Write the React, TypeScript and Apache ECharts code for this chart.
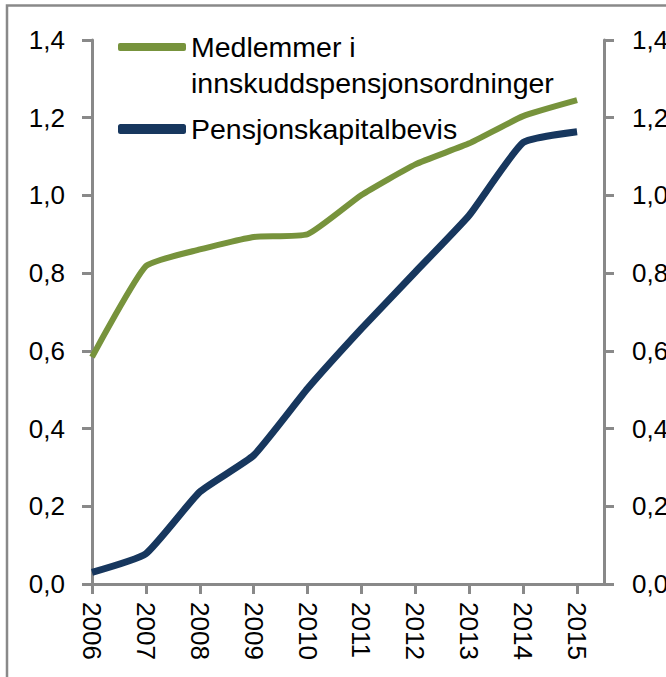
import React, { useEffect, useRef } from "react";
import * as echarts from "echarts";

const years = [2006, 2007, 2008, 2009, 2010, 2011, 2012, 2013, 2014, 2015];
const medlemmer = [0.584, 0.818, 0.861, 0.893, 0.9, 1.001, 1.08, 1.134, 1.204, 1.245];
const pensjonskapitalbevis = [0.03, 0.078, 0.237, 0.331, 0.503, 0.657, 0.803, 0.949, 1.136, 1.164];
const seriesNames = ["Medlemmer i innskuddspensjonsordninger", "Pensjonskapitalbevis"];
const legendLabels = ["\nMedlemmer i\ninnskuddspensjonsordninger", "Pensjonskapitalbevis"];
const yTicks = [0, 0.2, 0.4, 0.6, 0.8, 1.0, 1.2, 1.4];

const GREEN = "#77933C";
const BLUE = "#17375E";
const GRAY = "#898989";
const FONT = "'Liberation Sans', Arial, sans-serif";

export default function App() {
  const ref = useRef<HTMLDivElement>(null);
  useEffect(() => {
    if (!ref.current) return;
    const chart = echarts.init(ref.current, undefined, { renderer: "svg" });
    const fmt = (v: number) => v.toFixed(1).replace(".", ",");
    const yAxisBase = (position: "left" | "right", margin: number) => ({
      type: "value",
      position,
      min: yTicks[0],
      max: yTicks[yTicks.length - 1],
      interval: 0.2,
      splitLine: { show: false },
      axisLine: { show: true, lineStyle: { color: GRAY, width: 3 } },
      axisTick: { show: true, length: 10, lineStyle: { color: GRAY, width: 3 } },
      axisLabel: {
        margin,
        color: "#000",
        fontSize: 26,
        fontFamily: FONT,
        formatter: fmt,
      },
    });
    const legendText = {
      color: "#000",
      fontSize: 28.5,
      fontFamily: FONT,
      lineHeight: 36,
    };
    chart.setOption({
      animation: false,
      backgroundColor: "#fff",
      grid: {
        left: 92,
        right: 62,
        top: 40,
        bottom: 93,
        containLabel: false,
        outerBoundsMode: "none",
      },
      xAxis: {
        type: "value",
        min: years[0],
        max: years[years.length - 1] + 0.5,
        interval: 1,
        splitLine: { show: false },
        axisLine: { show: true, onZero: false, lineStyle: { color: GRAY, width: 3 } },
        axisTick: {
          show: true,
          length: 10,
          customValues: years,
          lineStyle: { color: GRAY, width: 3 },
        },
        axisLabel: {
          customValues: years,
          rotate: -90,
          margin: 18,
          color: "#000",
          fontSize: 26,
          fontFamily: FONT,
          formatter: (v: number) => String(v),
        },
      },
      yAxis: [yAxisBase("left", 27), yAxisBase("right", 28)],
      legend: [
        {
          data: [seriesNames[0]],
          left: 118,
          top: -7,
          padding: 0,
          icon: "roundRect",
          itemWidth: 68,
          itemHeight: 8,
          selectedMode: false,
          formatter: () => legendLabels[0],
          textStyle: legendText,
        },
        {
          data: [seriesNames[1]],
          left: 118,
          top: 111,
          padding: 0,
          icon: "roundRect",
          itemWidth: 68,
          itemHeight: 10,
          selectedMode: false,
          formatter: () => legendLabels[1],
          textStyle: legendText,
        },
      ],
      graphic: [
        {
          type: "rect",
          shape: { x: 7, y: 5.5, width: 900, height: 900 },
          style: { fill: "none", stroke: GRAY, lineWidth: 2.5 },
          silent: true,
          z: 0,
        },
      ],
      series: [
        {
          name: seriesNames[0],
          type: "line",
          data: years.map((y, i) => [y, medlemmer[i]]),
          symbol: "none",
          smooth: 0.15,
          itemStyle: { color: GREEN },
          lineStyle: { color: GREEN, width: 6 },
        },
        {
          name: seriesNames[1],
          type: "line",
          data: years.map((y, i) => [y, pensjonskapitalbevis[i]]),
          symbol: "none",
          smooth: 0.15,
          itemStyle: { color: BLUE },
          lineStyle: { color: BLUE, width: 7 },
        },
      ],
    });
    return () => chart.dispose();
  }, []);
  return (
    <div
      ref={ref}
      style={{ position: "absolute", left: 0, top: 0, width: 666, height: 677 }}
    />
  );
}
